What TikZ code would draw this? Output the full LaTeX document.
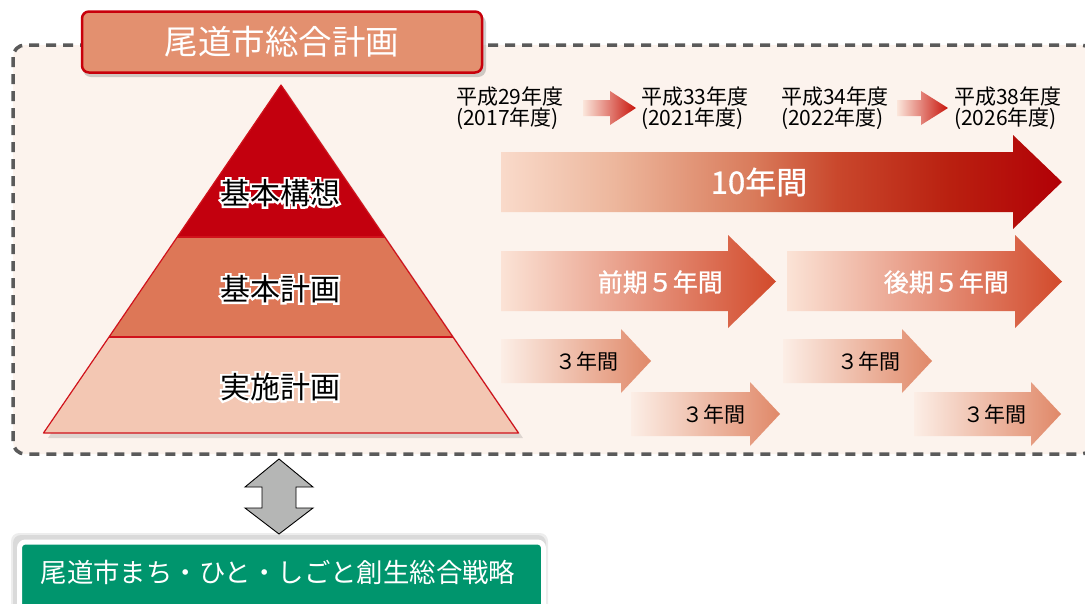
\documentclass[tikz,border=0pt]{standalone}
\usepackage{fontspec}
\setmainfont{Noto Sans CJK JP}
\newfontfamily\halofont[FakeBold=14]{Noto Sans CJK JP}
\newfontfamily\medfont[FakeBold=1]{Noto Sans CJK JP}
\usetikzlibrary{shadows}
\definecolor{bgcream}{HTML}{FCF3ED}
\definecolor{dashgray}{HTML}{5A5A5A}
\definecolor{titlefill}{HTML}{E3906F}
\definecolor{titleline}{HTML}{C8000B}
\definecolor{pyrtop}{HTML}{C3000E}
\definecolor{pyrmid}{HTML}{DD7757}
\definecolor{pyrbot}{HTML}{F3C7B3}
\definecolor{pyrline}{HTML}{D0121B}
\definecolor{greenbox}{HTML}{00956D}
\definecolor{arrgray}{HTML}{B5B6B5}
\definecolor{tenA}{HTML}{F9DACA}
\definecolor{tenB}{HTML}{EDB79D}
\definecolor{tenC}{HTML}{D97B5B}
\definecolor{tenD}{HTML}{C9472C}
\definecolor{tenE}{HTML}{B92010}
\definecolor{tenF}{HTML}{B20006}
\definecolor{fiveL}{HTML}{FBE3D6}
\definecolor{fiveR}{HTML}{D24A2B}
\definecolor{threeL}{HTML}{FCEEE6}
\definecolor{threeR}{HTML}{E08868}
\definecolor{smallL}{HTML}{FBE6DB}
\definecolor{smallR}{HTML}{C8150C}
\pgfdeclarehorizontalshading{tenshade}{100bp}{color(0bp)=(tenA); color(25bp)=(tenA); color(35bp)=(tenB); color(47.5bp)=(tenC); color(55bp)=(tenD); color(65bp)=(tenE); color(75bp)=(tenF); color(100bp)=(tenF)}
\tikzset{
  pyrtext/.style={inner sep=0pt, font=\fontsize{30}{34}\selectfont},
  yearlbl/.style={inner sep=0pt, anchor=west, align=left, font=\fontsize{21}{21}\selectfont},
  whitelbl/.style={inner sep=0pt, text=white},
  blacklbl/.style={inner sep=0pt, text=black},
}
% arrow shape: x1, xbase, xtip, yshaft-top, yshaft-bottom, yhead-top, yhead-bottom
\newcommand\arrowpath[7]{(#1,#4) -- (#2,#4) -- (#2,#6) -- (#3,{(#6+#7)/2}) -- (#2,#7) -- (#2,#5) -- (#1,#5) -- cycle}
\newcommand\halotext[3]{%
  \node[pyrtext,text=white,font=\halofont\fontsize{30}{34}\selectfont] at (#2) {#3};
  \node[pyrtext] (#1) at (#2) {#3};
}
\begin{document}
\begin{tikzpicture}[x=1pt,y=-1pt]
\useasboundingbox (0,0) rectangle (1085,603);
\fill[white] (0,0) rectangle (1085,603);
% dashed frame
\draw[fill=bgcream, draw=dashgray, line width=3.5pt, dash pattern=on 10pt off 7pt, rounded corners=12pt] (13,45) rectangle (1093,454);
% title
\fill[black, opacity=0.18, rounded corners=8pt] (83,15) rectangle (486,77);
\node[draw=titleline, fill=titlefill, line width=2.5pt, rounded corners=7pt, minimum width=400pt, minimum height=61pt, inner sep=0pt, text=white, font=\fontsize{33.5}{36}\selectfont] (title) at (282,42) {尾道市総合計画};
% pyramid
\fill[black, opacity=0.12] (285,89) -- (523,438) -- (48,438) -- cycle;
\fill[pyrtop] (281,85) -- (384.6,237) -- (177.4,237) -- cycle;
\fill[pyrmid] (177.4,237) -- (384.6,237) -- (452.8,337) -- (109.2,337) -- cycle;
\fill[pyrbot] (109.2,337) -- (452.8,337) -- (518.5,433) -- (43.5,433) -- cycle;
\draw[pyrline, line width=1.2pt, line join=round] (281,85) -- (518.5,433) -- (43.5,433) -- cycle;
\draw[pyrline, line width=1.2pt] (177.4,237) -- (384.6,237);
\draw[pyrline, line width=1.2pt] (109.2,337) -- (452.8,337);
\halotext{kihonkoso}{280,193}{基本構想}
\halotext{kihonkeikaku}{280,289}{基本計画}
\halotext{jisshi}{280,387}{実施計画}
% year labels
\node[yearlbl] (y1) at (456,108) {平成29年度\\(2017年度)};
\node[yearlbl] (y2) at (641,108) {平成33年度\\(2021年度)};
\node[yearlbl] (y3) at (781,108) {平成34年度\\(2022年度)};
\node[yearlbl] (y4) at (954,108) {平成38年度\\(2026年度)};
\shade[left color=smallL, right color=smallR] \arrowpath{583}{610}{636}{100}{116}{91}{125};
\shade[left color=smallL, right color=smallR] \arrowpath{897}{921}{948}{100}{116}{91}{125};
% 10 years
\shade[shading=tenshade] \arrowpath{501}{1013}{1062}{152}{212}{135}{229};
\node[whitelbl, font=\medfont\fontsize{31}{34}\selectfont] (ten) at (759,182) {10年間};
% 5 years
\shade[left color=fiveL, right color=fiveR] \arrowpath{501}{728}{776}{251}{311}{235}{328};
\shade[left color=fiveL, right color=fiveR] \arrowpath{787}{1015}{1062}{251}{311}{235}{328};
\node[whitelbl, anchor=east, font=\medfont\fontsize{25}{28}\selectfont] (zenki) at (723,282) {前期５年間};
\node[whitelbl, anchor=east, font=\medfont\fontsize{25}{28}\selectfont] (koki) at (1009,282) {後期５年間};
% 3 years
\shade[left color=threeL, right color=threeR] \arrowpath{501}{621}{651}{339}{383}{329}{393};
\shade[left color=threeL, right color=threeR] \arrowpath{783}{902}{932}{339}{383}{329}{393};
\shade[left color=threeL, right color=threeR] \arrowpath{631}{750}{780}{392}{436}{382}{446};
\shade[left color=threeL, right color=threeR] \arrowpath{914}{1031}{1061}{392}{436}{382}{446};
\node[blacklbl, anchor=east, font=\fontsize{21}{24}\selectfont] (t1) at (619,361) {３年間};
\node[blacklbl, anchor=east, font=\fontsize{21}{24}\selectfont] (t2) at (901,361) {３年間};
\node[blacklbl, anchor=east, font=\fontsize{21}{24}\selectfont] (t3) at (746,414) {３年間};
\node[blacklbl, anchor=east, font=\fontsize{21}{24}\selectfont] (t4) at (1027,414) {３年間};
% green box
\fill[black, opacity=0.07, rounded corners=8pt] (11,533) rectangle (548,615);
\fill[black, opacity=0.08, rounded corners=8pt] (13,535) rectangle (546,613);
\node[fill=greenbox, draw=white, line width=5pt, rounded corners=6pt, minimum width=524pt, minimum height=82pt, anchor=north west, inner sep=0pt] (green) at (17,539.5) {};
\node[whitelbl, font=\fontsize{26.4}{30}\selectfont] (greentext) at (278,572) {尾道市まち・ひと・しごと創生総合戦略};
% double arrow
\draw[fill=arrgray, draw=black, line width=0.9pt, line join=miter]
  (279,459) -- (313,487) -- (296,487) -- (296,508) -- (313,508) -- (279,534)
  -- (245,508) -- (262,508) -- (262,487) -- (245,487) -- cycle;
\end{tikzpicture}
\end{document}
